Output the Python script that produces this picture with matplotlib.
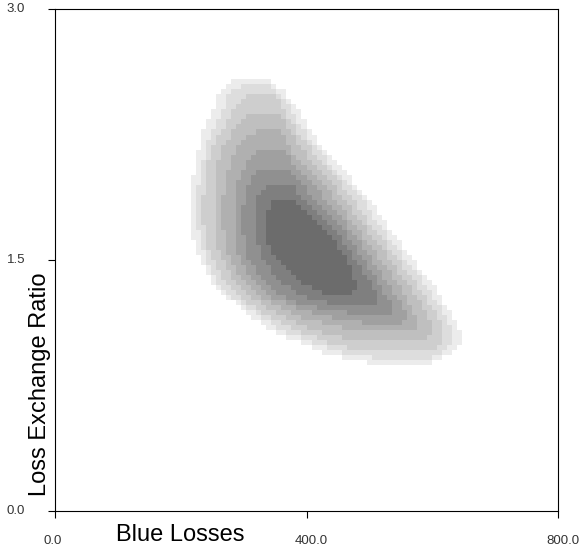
import numpy as np
import matplotlib
matplotlib.use("Agg")
import matplotlib.pyplot as plt
from matplotlib.path import Path
from matplotlib.colors import ListedColormap, BoundaryNorm

plt.rcParams['font.family'] = ['Liberation Sans', 'DejaVu Sans']

# Density bands, outermost first. Each band is given as rows of loss
# exchange ratio with the lowest and highest blue losses inside it.
band1_ler = [2.57, 2.49, 2.40, 2.28, 2.16, 1.98, 1.86, 1.73, 1.62, 1.50, 1.38, 1.29, 1.17, 1.08, 0.99, 0.93, 0.89, 0.86]
band1_lo = [281, 262, 250, 237, 227, 218, 215, 213, 220, 231, 246, 270, 310, 342, 398, 437, 485, 541]
band1_hi = [345, 369, 386, 405, 429, 472, 503, 525, 546, 569, 596, 612, 633, 646, 644, 628, 604, 588]

band2_ler = [2.54, 2.49, 2.40, 2.28, 2.16, 1.98, 1.86, 1.73, 1.62, 1.50, 1.38, 1.29, 1.17, 1.08, 0.99, 0.94, 0.91]
band2_lo = [294, 278, 266, 250, 239, 229, 226, 226, 231, 240, 256, 278, 323, 361, 418, 461, 509]
band2_hi = [339, 358, 375, 394, 418, 461, 490, 512, 534, 558, 584, 601, 620, 633, 631, 617, 596]

band3_ler = [2.48, 2.40, 2.28, 2.16, 1.98, 1.86, 1.73, 1.62, 1.50, 1.38, 1.29, 1.17, 1.08, 0.99, 0.95]
band3_lo = [305, 286, 266, 247, 239, 235, 235, 240, 250, 266, 289, 336, 382, 445, 493]
band3_hi = [350, 364, 383, 407, 449, 476, 498, 522, 546, 569, 588, 608, 619, 612, 596]

band4_ler = [2.38, 2.28, 2.16, 1.98, 1.86, 1.73, 1.62, 1.50, 1.38, 1.29, 1.17, 1.08, 1.01]
band4_lo = [310, 286, 262, 256, 253, 253, 256, 266, 282, 305, 358, 409, 477]
band4_hi = [355, 374, 393, 434, 461, 485, 509, 533, 555, 574, 593, 601, 588]

band5_ler = [2.27, 2.16, 1.98, 1.86, 1.73, 1.62, 1.50, 1.38, 1.29, 1.17, 1.11, 1.07]
band5_lo = [318, 286, 272, 267, 266, 270, 278, 297, 323, 382, 437, 493]
band5_hi = [361, 374, 418, 447, 472, 495, 518, 541, 558, 574, 581, 568]

band6_ler = [2.15, 2.07, 1.98, 1.86, 1.73, 1.62, 1.50, 1.38, 1.29, 1.20, 1.15, 1.12]
band6_lo = [323, 302, 291, 286, 285, 288, 294, 313, 339, 390, 445, 493]
band6_hi = [366, 382, 402, 431, 460, 482, 504, 525, 542, 557, 561, 546]

band7_ler = [2.05, 1.98, 1.86, 1.73, 1.62, 1.50, 1.38, 1.29, 1.23, 1.19, 1.17]
band7_lo = [329, 310, 301, 297, 301, 309, 329, 358, 398, 453, 493]
band7_hi = [374, 386, 414, 447, 469, 491, 512, 526, 536, 539, 525]

band8_ler = [1.95, 1.86, 1.73, 1.62, 1.50, 1.38, 1.29, 1.25, 1.23]
band8_lo = [339, 321, 316, 320, 332, 355, 390, 421, 469]
band8_hi = [377, 398, 434, 456, 477, 498, 511, 514, 501]

band9_ler = [1.86, 1.77, 1.62, 1.50, 1.38, 1.32, 1.29]
band9_lo = [350, 334, 336, 355, 386, 413, 437]
band9_hi = [379, 406, 442, 463, 477, 477, 469]

band_grays = [236, 221, 206, 191, 176, 160, 144, 127, 108]

x_ticks = [0, 400, 800]
x_tick_labels = ["0.0", "400.0", "800.0"]
y_ticks = [0.0, 1.5, 3.0]
y_tick_labels = ["0.0", "1.5", "3.0"]

x_range = (0, 800)
y_range = (0.0, 3.0)
n_cells = 100

bands = [
    (band1_ler, band1_lo, band1_hi),
    (band2_ler, band2_lo, band2_hi),
    (band3_ler, band3_lo, band3_hi),
    (band4_ler, band4_lo, band4_hi),
    (band5_ler, band5_lo, band5_hi),
    (band6_ler, band6_lo, band6_hi),
    (band7_ler, band7_lo, band7_hi),
    (band8_ler, band8_lo, band8_hi),
    (band9_ler, band9_lo, band9_hi),
]


def band_outline(ler, lo, hi):
    left = list(zip(lo, ler))
    right = list(zip(hi[::-1], ler[::-1]))
    verts = left + right + [left[0]]
    return Path(verts, closed=True)


# Raster of density levels on a regular grid
x_edges = np.linspace(*x_range, n_cells + 1)
y_edges = np.linspace(*y_range, n_cells + 1)
xc = 0.5 * (x_edges[:-1] + x_edges[1:])
yc = 0.5 * (y_edges[:-1] + y_edges[1:])
XX, YY = np.meshgrid(xc, yc)
pts = np.column_stack([XX.ravel(), YY.ravel()])
level = np.zeros(pts.shape[0], dtype=int)
for k, (ler, lo, hi) in enumerate(bands, start=1):
    inside = band_outline(ler, lo, hi).contains_points(pts)
    level = np.where(inside, np.maximum(level, k), level)
level = level.reshape(XX.shape)

colors = ["#ffffff"] + ["#{0:02x}{0:02x}{0:02x}".format(g) for g in band_grays]
cmap = ListedColormap(colors)
norm = BoundaryNorm(np.arange(-0.5, len(colors) + 0.5, 1), len(colors))

dpi = 100
fig = plt.figure(figsize=(5.84, 5.48), dpi=dpi)
ax = fig.add_axes([55 / 584, 37 / 548, 503 / 584, 502 / 548])
ax.pcolormesh(x_edges, y_edges, level, cmap=cmap, norm=norm,
              shading="flat", antialiased=False, linewidth=0)

ax.set_xlim(*x_range)
ax.set_ylim(*y_range)
for s in ax.spines.values():
    s.set_linewidth(0.8)
    s.set_color("black")

ax.set_xticks(x_ticks)
ax.set_yticks(y_ticks)
ax.tick_params(direction="out", length=5, width=0.8, color="black",
               labelbottom=False, labelleft=False)

tick_style = dict(fontsize=9.5, color="#333333", annotation_clip=False,
                  textcoords="offset pixels", va="center")
for v, lbl in zip(x_ticks, x_tick_labels):
    ax.annotate(lbl, xy=(v, 0), xycoords=("data", "axes fraction"),
                xytext=(-12, -30), ha="left", **tick_style)
for v, lbl in zip(y_ticks, y_tick_labels):
    ax.annotate(lbl, xy=(0, v), xycoords=("axes fraction", "data"),
                xytext=(-30, 0), ha="right", **tick_style)

ax.set_xlabel("Blue Losses", fontsize=17, ha="left", va="center")
ax.xaxis.set_label_coords((116 - 55) / 503, (511 - 535) / 502)
ax.set_ylabel("Loss Exchange Ratio", fontsize=17, ha="center", va="center")
ax.yaxis.set_label_coords((40 - 55) / 503, (511 - 384) / 502)

fig.savefig("out.png", dpi=dpi)
